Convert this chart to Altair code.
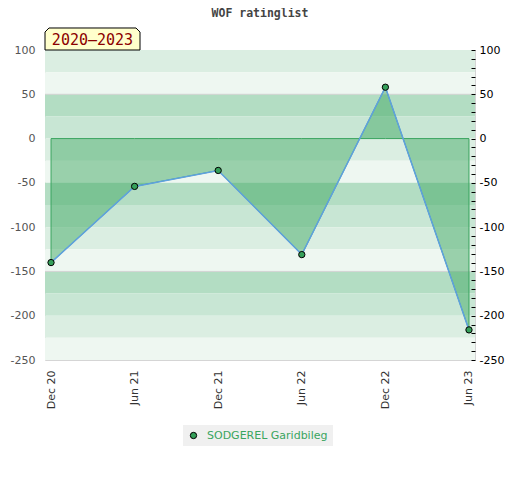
import altair as alt
import pandas as pd

# ---- data ----
dates = ["Dec 20", "Jun 21", "Dec 21", "Jun 22", "Dec 22", "Jun 23"]
ratings = [-140, -54, -36, -131, 58, -216]
player = "SODGEREL Garidbileg"
chart_title = "WOF ratinglist"
period_label = "2020–2023"
band_edges = [100, 75, 50, 25, 0, -25, -50, -75, -100, -125, -150, -175, -200, -225, -250]
band_palette = ["#dbeee2", "#eef7f1", "#b3ddc3", "#c8e6d4"]
grid_lines = [50, -150]
left_ticks = [100, 50, 0, -50, -100, -150, -200, -250]
right_ticks = list(range(-250, 101, 10))

df = pd.DataFrame({"date": dates, "rating": ratings, "name": [player] * len(dates)})
bands = pd.DataFrame({
    "top": band_edges[:-1],
    "bottom": band_edges[1:],
    "color": [band_palette[i % 4] for i in range(len(band_edges) - 1)],
})
grid = pd.DataFrame({"v": grid_lines})
label_df = pd.DataFrame({"t": [period_label]})
title_df = pd.DataFrame({"t": [chart_title]})

W, H = 430, 310
ydom = alt.Scale(domain=[-250, 100], nice=False, zero=False)
xscale = alt.Scale(type="point", padding=0.072)

band_layer = alt.Chart(bands).mark_rect().encode(
    y=alt.Y("top:Q", scale=ydom,
            axis=alt.Axis(orient="left", title=None, values=left_ticks,
                          labelExpr="toString(datum.value)",
                          ticks=False, domain=False, grid=False, labelColor="#555",
                          labelFontSize=11, labelFont="DejaVu Sans", labelPadding=10)),
    y2="bottom:Q",
    color=alt.Color("color:N", scale=None),
)

grid_layer = alt.Chart(grid).mark_rule(color="#d3d3d3", strokeWidth=1).encode(
    y=alt.Y("v:Q", scale=ydom, axis=None)
)

area = alt.Chart(df).mark_area(
    fill="#44aa65", fillOpacity=0.5, stroke="#3aa55f", strokeWidth=1
).encode(
    x=alt.X("date:N", sort=dates, scale=xscale,
            axis=alt.Axis(title=None, labelAngle=270, ticks=False, domain=False,
                          labelPadding=10, labelFontSize=11, labelFont="DejaVu Sans",
                          labelColor="#333", grid=False)),
    y=alt.Y("rating:Q", scale=ydom, axis=None),
    y2=alt.datum(0),
)

line = alt.Chart(df).mark_line(color="#5fa0e0", strokeWidth=1.5).encode(
    x=alt.X("date:N", sort=dates, scale=xscale),
    y=alt.Y("rating:Q", scale=ydom, axis=None),
)

points = alt.Chart(df).mark_point(
    filled=True, size=40, stroke="black", strokeWidth=1, opacity=1
).encode(
    x=alt.X("date:N", sort=dates, scale=xscale),
    y=alt.Y("rating:Q", scale=ydom,
            axis=alt.Axis(orient="right", title=None, values=right_ticks,
                          labelExpr="datum.value % 50 == 0 ? toString(datum.value) : ''",
                          ticks=True, tickSize=4, tickColor="black", tickWidth=1,
                          offset=-4, zindex=1,
                          domain=False, grid=False, labelColor="black",
                          labelFontSize=11, labelFont="DejaVu Sans", labelPadding=4)),
    color=alt.Color("name:N",
                    scale=alt.Scale(domain=[player], range=["#35a05a"]),
                    legend=alt.Legend(orient="none", legendX=138, legendY=375,
                                      title=None, fillColor="#f0f0f0", padding=5,
                                      labelColor="#3aa55f", labelFontSize=11,
                                      labelFont="DejaVu Sans", labelOffset=8,
                                      symbolType="circle", symbolSize=40,
                                      symbolStrokeColor="black", symbolStrokeWidth=1)),
)

box = alt.Chart(label_df).mark_point(
    shape="M -1 0.2316 L -1 -0.147 L -0.916 -0.2316 L 0.916 -0.2316 L 1 -0.147 L 1 0.2316 Z",
    filled=True, fill="#ffffcc", stroke="black", strokeWidth=1, opacity=1, size=9025,
).encode(x=alt.value(47.5), y=alt.value(-11))

box_text = alt.Chart(label_df).mark_text(
    font="DejaVu Sans Mono", fontSize=15, color="#8b0000", align="center", baseline="middle"
).encode(x=alt.value(47.5), y=alt.value(-10), text="t:N")

title_text = alt.Chart(title_df).mark_text(
    font="DejaVu Sans Mono", fontSize=11.5, fontWeight="bold", color="#444",
    align="center", baseline="middle"
).encode(x=alt.value(W / 2), y=alt.value(-36), text="t:N")

chart = alt.layer(band_layer, grid_layer, area, line, points, box, box_text, title_text).resolve_scale(
    y="shared"
).resolve_axis(y="independent").properties(
    width=W, height=H,
    autosize=alt.AutoSizeParams(type="none"),
    padding={"left": 37, "top": 42, "right": 37, "bottom": 112},
).configure_view(stroke="#d5d5d5", strokeWidth=1)

chart.save("out.html", embed_options={"renderer": "svg", "actions": False})
